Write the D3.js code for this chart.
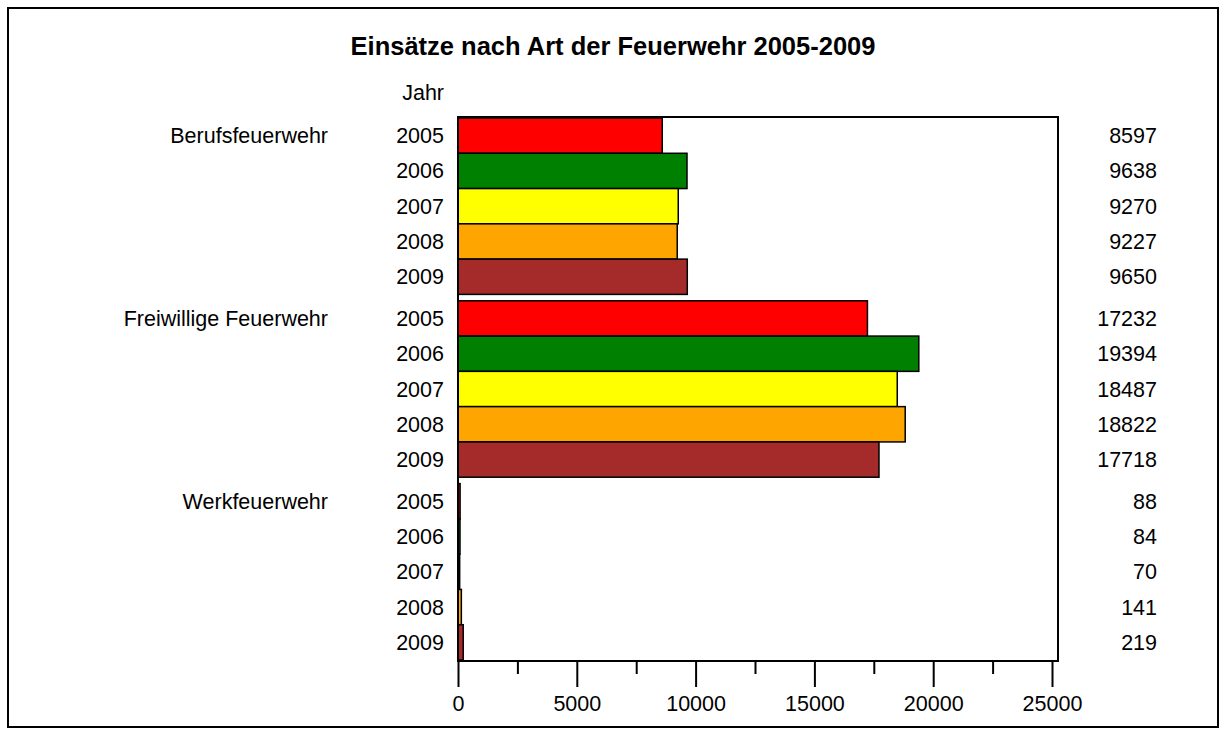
<!DOCTYPE html>
<html><head><meta charset="utf-8">
<script src="https://cdn.jsdelivr.net/npm/d3@7"></script>
<style>
html,body{margin:0;padding:0;background:#fff;}
svg{display:block;font-family:"Liberation Sans",Arial,sans-serif;}
</style></head>
<body>
<svg id="c" width="1226" height="735"></svg>
<script>
const title = "Einsätze nach Art der Feuerwehr 2005-2009";
const yearAxisTitle = "Jahr";
const categories = ["Berufsfeuerwehr", "Freiwillige Feuerwehr", "Werkfeuerwehr"];
const years = ["2005", "2006", "2007", "2008", "2009"];
const yearColors = ["#ff0000", "#008000", "#ffff00", "#ffa500", "#a52a2a"];
const berufValues = [8597, 9638, 9270, 9227, 9650];
const freiwilligeValues = [17232, 19394, 18487, 18822, 17718];
const werkValues = [88, 84, 70, 141, 219];
const xTicks = [0, 5000, 10000, 15000, 20000, 25000];
const xMinorTicks = [2500, 7500, 12500, 17500, 22500];

const seriesByCategory = [berufValues, freiwilligeValues, werkValues];
const rows = [];
categories.forEach((c, ci) => years.forEach((y, yi) => rows.push({cat: c, year: y, yi, value: seriesByCategory[ci][yi]})));

const svg = d3.select("#c");
const W = 1226, H = 735;
const plot = {left: 458, right: 1058, top: 117, bottom: 661};
const FS = 21.5;

// outer border
svg.append("rect").attr("x", 8).attr("y", 8).attr("width", 1210).attr("height", 719)
  .attr("fill", "#fff").attr("stroke", "#000").attr("stroke-width", 2);

svg.append("text").attr("x", W / 2).attr("y", 55).attr("text-anchor", "middle")
  .attr("font-size", 25.5).attr("font-weight", "bold").text(title);

const x = d3.scaleLinear().domain([0, 25000]).range([458, 1052]);
const yGroup = d3.scaleBand().domain(categories).range([plot.top + 1, plot.bottom - 1]).paddingInner(0.035).paddingOuter(0);
const yYear = d3.scaleBand().domain(years).range([0, yGroup.bandwidth()]).padding(0);
const yPos = d => yGroup(d.cat) + yYear(d.year);

// bars
svg.append("g").selectAll("rect").data(rows).join("rect")
  .attr("x", x(0))
  .attr("y", d => yPos(d))
  .attr("width", d => Math.max(0, x(d.value) - x(0)))
  .attr("height", yYear.bandwidth())
  .attr("fill", d => yearColors[d.yi])
  .attr("stroke", "#000").attr("stroke-width", 1.5);

// plot frame
svg.append("rect").attr("x", plot.left).attr("y", plot.top)
  .attr("width", plot.right - plot.left).attr("height", plot.bottom - plot.top)
  .attr("fill", "none").attr("stroke", "#000").attr("stroke-width", 2);

// x axis ticks
const axis = d3.axisBottom(x).tickValues(xTicks).tickSize(26).tickPadding(9).tickFormat(d3.format("d"));
const ax = svg.append("g").attr("transform", `translate(0,${plot.bottom})`).call(axis);
ax.select(".domain").remove();
ax.selectAll(".tick line").attr("stroke-width", 2);
ax.selectAll(".tick text").attr("font-size", FS).attr("font-family", "Liberation Sans, Arial, sans-serif").attr("fill", "#000");
const minorAxis = d3.axisBottom(x).tickValues(xMinorTicks).tickSize(13).tickFormat("");
const mx = svg.append("g").attr("transform", `translate(0,${plot.bottom})`).call(minorAxis);
mx.select(".domain").remove();
mx.selectAll(".tick line").attr("stroke-width", 2);

// year labels
svg.append("g").selectAll("text").data(rows).join("text")
  .attr("x", 444).attr("y", d => yPos(d) + yYear.bandwidth() / 2)
  .attr("dy", "0.35em").attr("text-anchor", "end").attr("font-size", FS).text(d => d.year);

// values
svg.append("g").selectAll("text").data(rows).join("text")
  .attr("x", 1157).attr("y", d => yPos(d) + yYear.bandwidth() / 2)
  .attr("dy", "0.35em").attr("text-anchor", "end").attr("font-size", FS).text(d => d.value);

// category labels
svg.append("g").selectAll("text").data(categories).join("text")
  .attr("x", 328).attr("y", c => yGroup(c) + yYear("2005") + yYear.bandwidth() / 2)
  .attr("dy", "0.35em").attr("text-anchor", "end").attr("font-size", FS).text(c => c);

svg.append("text").attr("x", 444).attr("y", 100).attr("text-anchor", "end").attr("font-size", FS).text(yearAxisTitle);
</script>
</body></html>
